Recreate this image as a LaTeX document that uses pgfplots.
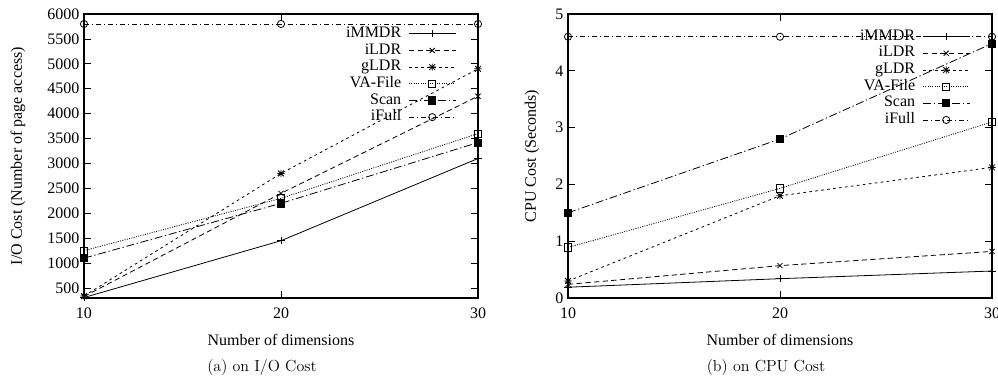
\documentclass[border=0pt]{standalone}
\usepackage{fontspec}
\usepackage{pgfplots}
\pgfplotsset{compat=1.18}
\newfontfamily\timesf{Liberation Serif}
\pgfdeclareplotmark{gpstar}{%
  \pgfpathmoveto{\pgfqpoint{-\pgfplotmarksize}{0pt}}\pgfpathlineto{\pgfqpoint{\pgfplotmarksize}{0pt}}%
  \pgfpathmoveto{\pgfqpoint{0pt}{-\pgfplotmarksize}}\pgfpathlineto{\pgfqpoint{0pt}{\pgfplotmarksize}}%
  \pgfpathmoveto{\pgfqpoint{-0.8\pgfplotmarksize}{-0.8\pgfplotmarksize}}\pgfpathlineto{\pgfqpoint{0.8\pgfplotmarksize}{0.8\pgfplotmarksize}}%
  \pgfpathmoveto{\pgfqpoint{-0.8\pgfplotmarksize}{0.8\pgfplotmarksize}}\pgfpathlineto{\pgfqpoint{0.8\pgfplotmarksize}{-0.8\pgfplotmarksize}}%
  \pgfusepathqstroke}
\pgfplotsset{gp/.style={
  scale only axis, height=213pt,
  xmin=10, xmax=30, xtick={10,20,30},
  tick align=inside, tick pos=both, major tick length=5pt,
  axis line style={line width=1.2pt},
  every tick/.style={line width=0.6pt, black},
  tick label style={font=\timesf\fontsize{12}{14}\selectfont},
  x tick label style={yshift=-4pt},
  label style={font=\timesf\fontsize{12}{14}\selectfont},
  /pgf/number format/assume math mode=true,
  /pgf/number format/set thousands separator={},
  clip=false,
  legend plot pos=right, legend cell align=right,
  legend style={draw=none, fill=none, font=\timesf\fontsize{12}{14}\selectfont, anchor=north east, row sep=0pt, column sep=5pt,
    nodes={inner sep=0.5pt, text height=8.5pt, text depth=3pt}},
  legend image code/.code={\draw[mark repeat=2,mark phase=2] plot coordinates {(0pt,0pt)(17.5pt,0pt)(35pt,0pt)};},
  every axis plot/.append style={line width=0.6pt, mark size=2.7pt, black, mark options={solid}},
  xlabel={Number of dimensions},
  x label style={at={(axis description cs:0.5,-0.148)}, anchor=center},
},
s1/.style={solid, mark=+},
s2/.style={dash pattern=on 4pt off 2.5pt, mark=x},
s3/.style={dash pattern=on 2pt off 2.5pt, mark=gpstar},
s4/.style={dash pattern=on 0.75pt off 1pt, mark=square},
s5/.style={dash pattern=on 6pt off 2pt on 1pt off 2pt, mark=square*},
s6/.style={dash pattern=on 4pt off 2pt on 1pt off 2pt, mark=o},
}
\begin{document}
\begin{tikzpicture}
\begin{axis}[gp, at={(63pt,63.75pt)}, anchor=south west, width=295.5pt,
  ymin=300, ymax=6000, ytick={500,1000,...,6000},
  ylabel={I/O Cost (Number of page access)},
  y label style={at={(axis description cs:-0.1675,0.5)}, anchor=center},
  legend style={at={(axis description cs:0.955,0.97)}}]
\addplot[s1] coordinates {(10,310) (20,1450) (30,3100)};
\addplot[s2] coordinates {(10,330) (20,2400) (30,4350)};
\addplot[s3] coordinates {(10,340) (20,2800) (30,4900)};
\addplot[s4] coordinates {(10,1250) (20,2300) (30,3600)};
\addplot[s5] coordinates {(10,1100) (20,2200) (30,3420)};
\addplot[s6] coordinates {(10,5800) (20,5800) (30,5800)};
\legend{iMMDR,iLDR,gLDR,VA-File,Scan,iFull}
\end{axis}
\begin{axis}[gp, at={(426pt,63.75pt)}, anchor=south west, width=318pt,
  ymin=0, ymax=5, ytick={0,1,2,3,4,5},
  ylabel={CPU Cost (Seconds)},
  y label style={at={(axis description cs:-0.0849,0.5)}, anchor=center},
  legend style={at={(axis description cs:0.958,0.96)}}]
\addplot[s1] coordinates {(10,0.19) (20,0.34) (30,0.475)};
\addplot[s2] coordinates {(10,0.24) (20,0.57) (30,0.82)};
\addplot[s3] coordinates {(10,0.30) (20,1.80) (30,2.30)};
\addplot[s4] coordinates {(10,0.89) (20,1.93) (30,3.10)};
\addplot[s5] coordinates {(10,1.50) (20,2.80) (30,4.48)};
\addplot[s6] coordinates {(10,4.60) (20,4.60) (30,4.60)};
\legend{iMMDR,iLDR,gLDR,VA-File,Scan,iFull}
\end{axis}
\node[font=\fontsize{12}{14}\selectfont] at (196.5pt,11.25pt) {(a) on I/O Cost};
\node[font=\fontsize{12}{14}\selectfont] at (574.5pt,11.25pt) {(b) on CPU Cost};
\pgfresetboundingbox
\path (0,0) rectangle (748.5pt,287.25pt);
\end{tikzpicture}
\end{document}
